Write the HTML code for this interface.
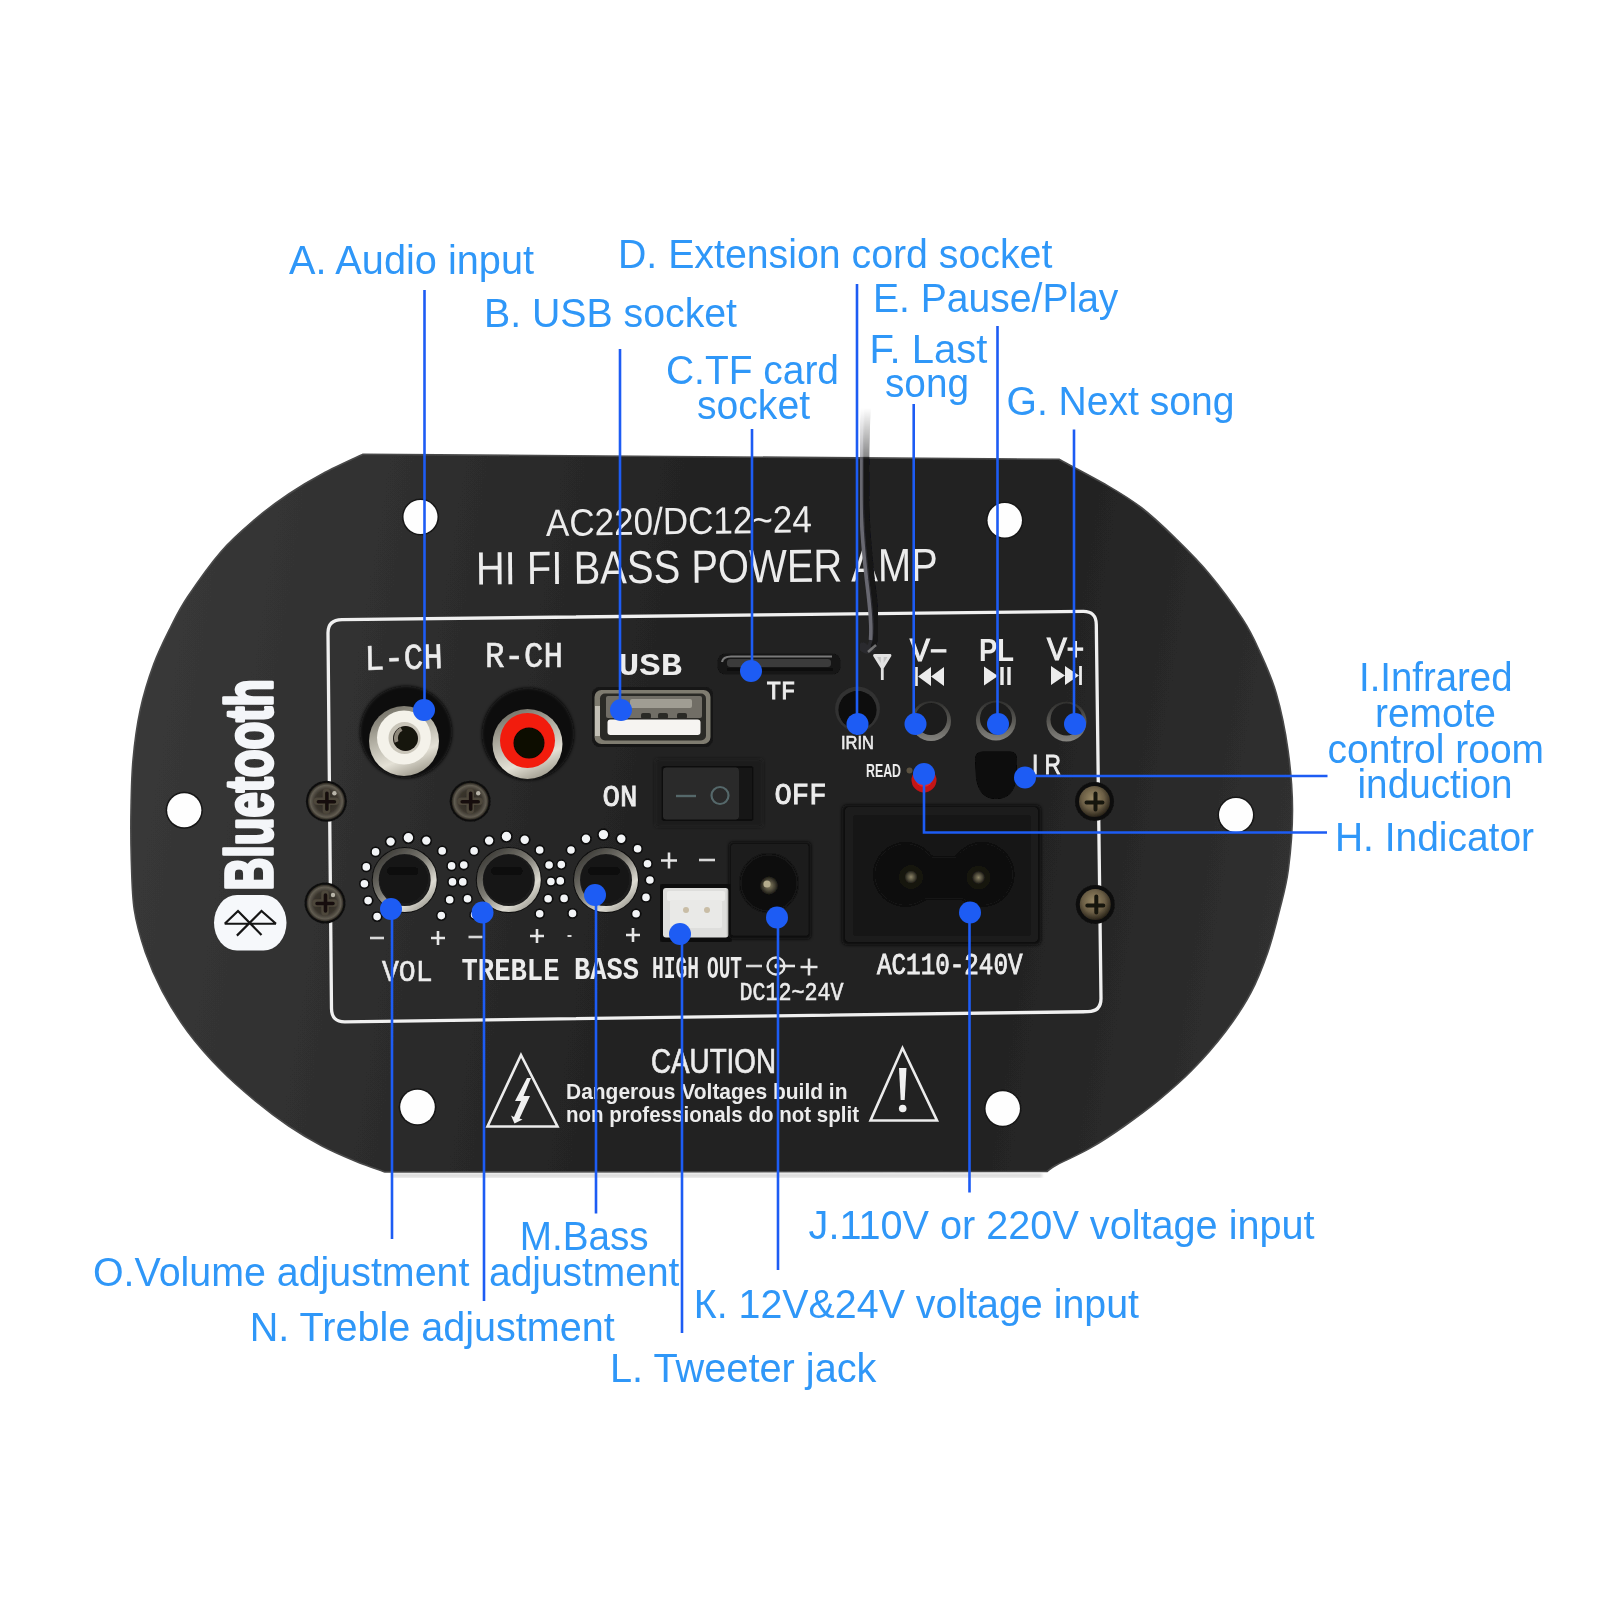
<!DOCTYPE html>
<html lang="en"><head><meta charset="utf-8"><title>HI FI Bass Power Amp - labelled diagram</title>
<style>html,body{margin:0;padding:0;background:#fff}body{width:1600px;height:1600px;overflow:hidden}svg{display:block}text{font-family:"Liberation Sans", Arial, Helvetica, sans-serif}text.m{font-family:"Liberation Mono","DejaVu Sans Mono",monospace}</style>
</head><body>
<svg width="1600" height="1600" viewBox="0 0 1600 1600">
<defs>
<filter id="b1" x="-5%" y="-5%" width="110%" height="110%"><feGaussianBlur stdDeviation="0.7"/></filter>
<filter id="b2" x="-10%" y="-10%" width="120%" height="120%"><feGaussianBlur stdDeviation="1.4"/></filter>
<filter id="b3" x="-20%" y="-20%" width="140%" height="140%"><feGaussianBlur stdDeviation="3"/></filter>
<linearGradient id="plateG" x1="0" y1="0.45" x2="1" y2="0.55"><stop offset="0" stop-color="#383838"/><stop offset="0.22" stop-color="#2e2e2e"/><stop offset="0.45" stop-color="#232323"/><stop offset="0.75" stop-color="#222222"/><stop offset="1" stop-color="#303030"/></linearGradient>
<linearGradient id="silver" x1="0" y1="0" x2="1" y2="1"><stop offset="0" stop-color="#e9e6da"/><stop offset="0.5" stop-color="#b9b5a6"/><stop offset="1" stop-color="#8d897a"/></linearGradient>
<linearGradient id="silverV" x1="0.2" y1="0" x2="0.6" y2="1"><stop offset="0" stop-color="#6d6a60"/><stop offset="0.35" stop-color="#aaa79b"/><stop offset="0.75" stop-color="#e4e1d6"/><stop offset="1" stop-color="#a5a194"/></linearGradient>
<linearGradient id="silver2" x1="0" y1="0" x2="0" y2="1"><stop offset="0" stop-color="#3a3a38"/><stop offset="0.55" stop-color="#8c8a82"/><stop offset="1" stop-color="#d6d4cc"/></linearGradient>
<radialGradient id="screwG" cx="0.5" cy="0.5" r="0.5"><stop offset="0" stop-color="#2a2620"/><stop offset="0.62" stop-color="#3a352d"/><stop offset="0.86" stop-color="#625d52"/><stop offset="1" stop-color="#26221c"/></radialGradient>
<radialGradient id="screwG2" cx="0.45" cy="0.4" r="0.6"><stop offset="0" stop-color="#9a8a66"/><stop offset="0.6" stop-color="#6b5e45"/><stop offset="1" stop-color="#2a241a"/></radialGradient>
<linearGradient id="knobRing" x1="0.1" y1="0.05" x2="0.85" y2="0.95"><stop offset="0" stop-color="#3b3a36"/><stop offset="0.45" stop-color="#7d7b73"/><stop offset="0.8" stop-color="#dedcd3"/><stop offset="1" stop-color="#a8a69d"/></linearGradient>
<radialGradient id="pinG" cx="0.5" cy="0.5" r="0.5"><stop offset="0" stop-color="#8b8466"/><stop offset="0.6" stop-color="#4a4637"/><stop offset="1" stop-color="#1a1914"/></radialGradient>
<linearGradient id="wireG" x1="0" y1="0" x2="1" y2="0"><stop offset="0" stop-color="#5a5a5a"/><stop offset="0.35" stop-color="#1a1a1a"/><stop offset="1" stop-color="#050505"/></linearGradient>
<linearGradient id="wireFade" x1="0" y1="0" x2="0" y2="1"><stop offset="0.037" stop-color="#fff" stop-opacity="0"/><stop offset="0.215" stop-color="#fff" stop-opacity="0.5"/><stop offset="0.23" stop-color="#fff" stop-opacity="1"/><stop offset="1" stop-color="#fff" stop-opacity="1"/></linearGradient>
<mask id="wireM"><rect x="830" y="398" width="80" height="270" fill="url(#wireFade)"/></mask>
</defs>
<rect width="1600" height="1600" fill="#ffffff"/>
<g id="plate">
<path d="M1059.0,459.3 C1067.1,463.7 1093.8,477.6 1107.5,485.6 C1121.2,493.6 1130.0,498.8 1141.2,507.5 C1152.5,516.2 1163.8,526.9 1175.0,537.9 C1186.2,548.9 1197.5,559.8 1208.7,573.3 C1220.0,586.8 1234.0,606.0 1242.5,618.9 C1251.0,631.8 1253.8,638.5 1259.4,650.9 C1265.0,663.3 1271.4,676.6 1276.2,693.1 C1281.0,709.6 1285.3,730.5 1288.0,750.0 C1290.7,769.5 1292.5,790.0 1292.5,810.0 C1292.5,830.0 1290.5,853.3 1288.3,870.0 C1286.1,886.7 1283.0,896.3 1279.6,910.0 C1276.2,923.7 1272.6,938.4 1267.8,952.2 C1263.0,966.0 1257.9,979.5 1250.9,992.7 C1243.9,1005.9 1235.4,1018.6 1225.6,1031.5 C1215.8,1044.4 1203.2,1058.8 1191.9,1070.3 C1180.7,1081.8 1169.3,1091.4 1158.1,1100.7 C1146.8,1110.0 1135.7,1118.1 1124.4,1126.0 C1113.2,1133.9 1101.8,1141.4 1090.6,1147.9 C1079.3,1154.4 1064.2,1160.9 1056.9,1164.8 C1049.6,1168.7 1048.7,1170.4 1047.0,1171.5 L385.0,1172.0 C380.2,1170.2 366.6,1165.7 356.2,1161.4 C345.8,1157.1 333.8,1152.1 322.5,1146.2 C311.2,1140.3 299.9,1133.6 288.7,1126.0 C277.4,1118.4 266.2,1110.0 255.0,1100.7 C243.8,1091.4 232.4,1081.8 221.2,1070.3 C209.9,1058.8 197.3,1044.7 187.5,1031.5 C177.7,1018.3 169.2,1004.2 162.2,991.0 C155.2,977.8 150.0,965.7 145.3,952.2 C140.7,938.7 136.6,925.4 134.3,910.0 C132.0,894.6 131.9,876.7 131.3,860.0 C130.8,843.3 130.7,826.7 131.0,810.0 C131.3,793.3 131.5,776.7 133.0,760.0 C134.5,743.3 136.8,725.9 140.2,710.0 C143.6,694.1 148.6,678.2 153.7,664.4 C158.8,650.6 165.0,638.5 170.6,627.3 C176.2,616.1 179.1,609.6 187.5,597.0 C195.9,584.4 209.9,564.4 221.2,551.4 C232.4,538.4 243.8,528.9 255.0,519.3 C266.2,509.7 277.4,501.6 288.7,494.0 C299.9,486.4 310.1,480.3 322.5,473.7 C334.9,467.1 356.2,457.5 363.0,454.3 Z" fill="url(#plateG)" stroke="#4a4a4a" stroke-width="1.6" filter="url(#b1)"/>
<rect x="392" y="1173.5" width="650" height="4" fill="#8a8a8a" opacity="0.35" filter="url(#b2)"/>
<circle cx="420.5" cy="517" r="18.5" fill="#161616" filter="url(#b1)"/>
<circle cx="420.5" cy="517" r="17" fill="#fefefe" filter="url(#b1)"/>
<circle cx="1004.75" cy="520.25" r="18.7" fill="#161616" filter="url(#b1)"/>
<circle cx="1004.75" cy="520.25" r="17.2" fill="#fefefe" filter="url(#b1)"/>
<circle cx="184.25" cy="810.25" r="18.6" fill="#161616" filter="url(#b1)"/>
<circle cx="184.25" cy="810.25" r="17.1" fill="#fefefe" filter="url(#b1)"/>
<circle cx="1236" cy="815" r="18.5" fill="#161616" filter="url(#b1)"/>
<circle cx="1236" cy="815" r="17" fill="#fefefe" filter="url(#b1)"/>
<circle cx="417.5" cy="1107" r="18.8" fill="#161616" filter="url(#b1)"/>
<circle cx="417.5" cy="1107" r="17.3" fill="#fefefe" filter="url(#b1)"/>
<circle cx="1002.75" cy="1108.5" r="18.7" fill="#161616" filter="url(#b1)"/>
<circle cx="1002.75" cy="1108.5" r="17.2" fill="#fefefe" filter="url(#b1)"/>
</g>
<g id="silk" filter="url(#b1)">
<text x="546" y="536" font-size="38" fill="#ececec" font-weight="normal" text-anchor="start" textLength="266" lengthAdjust="spacingAndGlyphs" transform="rotate(-0.8 546 536)">AC220/DC12~24</text>
<text x="476" y="584.5" font-size="46.5" fill="#ececec" font-weight="normal" text-anchor="start" textLength="462" lengthAdjust="spacingAndGlyphs" transform="rotate(-0.45 476 584.5)">HI FI BASS POWER AMP</text>
<path d="M342,619.6 L1083,611.4 Q1096.2,611.2 1096.3,624.5 L1101,998 Q1101.2,1011.4 1088,1011.7 L345,1021.8 Q331.6,1022 331.5,1008.5 L328,633 Q327.9,619.8 342,619.6 Z" fill="none" stroke="#f0f0f0" stroke-width="3.3"/>
<text x="365" y="670" font-size="36" fill="#ececec" font-weight="normal" text-anchor="start" textLength="78" lengthAdjust="spacingAndGlyphs" stroke="#ececec" stroke-width="0.6" class="m" transform="rotate(-1.5 367 670)">L-CH</text>
<text x="485" y="667" font-size="36" fill="#ececec" font-weight="normal" text-anchor="start" textLength="78" lengthAdjust="spacingAndGlyphs" stroke="#ececec" stroke-width="0.6" class="m">R-CH</text>
<text x="618" y="675" font-size="32" fill="#ececec" font-weight="bold" text-anchor="start" textLength="64" lengthAdjust="spacingAndGlyphs" class="m">USB</text>
<text x="766.5" y="699" font-size="26" fill="#ececec" font-weight="normal" text-anchor="start" textLength="29" lengthAdjust="spacingAndGlyphs" stroke="#ececec" stroke-width="0.9" class="m">TF</text>
<text x="910" y="661" font-size="31" fill="#ececec" font-weight="normal" text-anchor="start" textLength="37" lengthAdjust="spacingAndGlyphs" stroke="#ececec" stroke-width="1.2" >V−</text>
<text x="979" y="661" font-size="31" fill="#ececec" font-weight="bold" text-anchor="start" textLength="35" lengthAdjust="spacingAndGlyphs" >PL</text>
<text x="1047" y="660" font-size="31" fill="#ececec" font-weight="normal" text-anchor="start" textLength="37" lengthAdjust="spacingAndGlyphs" stroke="#ececec" stroke-width="1.2" >V+</text>
<text x="841" y="748.5" font-size="18.5" fill="#ececec" font-weight="normal" text-anchor="start" textLength="33" lengthAdjust="spacingAndGlyphs" stroke="#ececec" stroke-width="0.6" >IRIN</text>
<text x="866" y="777" font-size="18" fill="#ececec" font-weight="bold" text-anchor="start" textLength="35" lengthAdjust="spacingAndGlyphs" >READ</text>
<text x="1032" y="774" font-size="28" fill="#ececec" font-weight="normal" text-anchor="start" textLength="29" lengthAdjust="spacingAndGlyphs" stroke="#ececec" stroke-width="0.9" >I R</text>
<text x="602.5" y="806" font-size="30" fill="#ececec" font-weight="normal" text-anchor="start" textLength="35" lengthAdjust="spacingAndGlyphs" stroke="#ececec" stroke-width="0.9" class="m">ON</text>
<text x="774.5" y="803.5" font-size="29" fill="#ececec" font-weight="normal" text-anchor="start" textLength="52" lengthAdjust="spacingAndGlyphs" stroke="#ececec" stroke-width="0.9" class="m">OFF</text>
<text x="382" y="981" font-size="30" fill="#ececec" font-weight="normal" text-anchor="start" textLength="50.6" lengthAdjust="spacingAndGlyphs" stroke="#ececec" stroke-width="0.6" class="m">VOL</text>
<text x="461.5" y="980" font-size="31" fill="#ececec" font-weight="bold" text-anchor="start" textLength="98" lengthAdjust="spacingAndGlyphs" class="m">TREBLE</text>
<text x="574" y="979" font-size="32" fill="#ececec" font-weight="bold" text-anchor="start" textLength="65" lengthAdjust="spacingAndGlyphs" class="m">BASS</text>
<text x="652" y="977.5" font-size="32" fill="#ececec" font-weight="bold" text-anchor="start" textLength="47" lengthAdjust="spacingAndGlyphs" class="m">HIGH</text>
<text x="707" y="977.5" font-size="32" fill="#ececec" font-weight="bold" text-anchor="start" textLength="35" lengthAdjust="spacingAndGlyphs" class="m">OUT</text>
<text x="739.5" y="1000" font-size="26" fill="#ececec" font-weight="normal" text-anchor="start" textLength="104" lengthAdjust="spacingAndGlyphs" stroke="#ececec" stroke-width="0.6" class="m">DC12~24V</text>
<text x="877" y="974" font-size="29" fill="#ececec" font-weight="normal" text-anchor="start" textLength="145.5" lengthAdjust="spacingAndGlyphs" stroke="#ececec" stroke-width="0.9" class="m">AC110-240V</text>
<text x="651" y="1073" font-size="35" fill="#ececec" font-weight="normal" text-anchor="start" textLength="125" lengthAdjust="spacingAndGlyphs" stroke="#ececec" stroke-width="0.7">CAUTION</text>
<text x="566" y="1098.5" font-size="21.5" fill="#ececec" font-weight="bold" text-anchor="start" textLength="281.5" lengthAdjust="spacingAndGlyphs" >Dangerous Voltages build in</text>
<text x="566" y="1121.5" font-size="21.5" fill="#ececec" font-weight="bold" text-anchor="start" textLength="293" lengthAdjust="spacingAndGlyphs" >non professionals do not split</text>
<path d="M370,938 h14" stroke="#d8d8d8" stroke-width="2.6" fill="none"/>
<path d="M431,938 h14 M438,931 v14" stroke="#e6e6e6" stroke-width="2.6" fill="none"/>
<path d="M468.5,937 h14" stroke="#d8d8d8" stroke-width="2.6" fill="none"/>
<path d="M530,936 h14 M537,929 v14" stroke="#e6e6e6" stroke-width="2.6" fill="none"/>
<path d="M567.5,936 h4" stroke="#d8d8d8" stroke-width="2" fill="none"/>
<path d="M626,935 h14 M633,928 v14" stroke="#e6e6e6" stroke-width="2.6" fill="none"/>
<path d="M661,860.5 h16 M669,852.5 v16" stroke="#e6e6e6" stroke-width="2.6" fill="none"/>
<path d="M699,860 h16" stroke="#d8d8d8" stroke-width="2.6" fill="none"/>
<path d="M746,966 h16" stroke="#d8d8d8" stroke-width="2.6" fill="none"/>
<circle cx="776" cy="966" r="8.5" fill="none" stroke="#e6e6e6" stroke-width="2.4"/><circle cx="777" cy="966" r="2.6" fill="#e6e6e6"/>
<path d="M780,966 h15" stroke="#e6e6e6" stroke-width="2.6"/>
<path d="M800.5,967 h17.0 M809,958.5 v17.0" stroke="#e6e6e6" stroke-width="2.6" fill="none"/>
<path d="M931,667.0 L918,676.5 L931,686.0 Z M944,667.0 L931,676.5 L944,686.0 Z" fill="#ececec"/>
<path d="M916.5,667 v19" stroke="#ececec" stroke-width="2.6"/>
<path d="M984,666.5 L998,676 L984,685.5 Z" fill="#ececec"/>
<path d="M1002,667 v18 M1009,667 v18" stroke="#ececec" stroke-width="3.4"/>
<path d="M1051,666.0 L1065,675.5 L1051,685.0 Z M1065,666.0 L1079,675.5 L1065,685.0 Z" fill="#ececec"/>
<path d="M1080.5,666 v19" stroke="#ececec" stroke-width="2.8"/>
<path d="M874.5,655.5 L890,655.5 L882.3,668 Z M882.3,657 V680" fill="#c4c4c4" stroke="#e2e2e2" stroke-width="2.8" stroke-linejoin="round"/>
<path d="M521,1055 L557.5,1126.5 L487.5,1126.5 Z" fill="none" stroke="#ececec" stroke-width="2.6" stroke-linejoin="miter"/>
<path d="M527,1078 L515,1101 L521,1101 L514,1117 L511,1115.5 L514.5,1123.5 L522.5,1119.5 L519.5,1118.5 L530,1096 L523.5,1096 L531,1078 Z" fill="#f0f0f0"/>
<path d="M902.5,1048 L937,1120.5 L870.5,1120.5 Z" fill="none" stroke="#ececec" stroke-width="2.6"/>
<path d="M899,1068 h7.5 l-1.8,32 h-4 Z" fill="#f0f0f0"/><circle cx="902.7" cy="1108.5" r="3.8" fill="#f0f0f0"/>
</g>
<g id="bt" filter="url(#b1)">
<rect x="214" y="895" width="72.5" height="55.6" rx="23" ry="27.8" fill="#f6f8fb"/>
<path d="M224.7,923.75 L238,911 L261.5,935 M276,923.75 L261.5,911 L236.9,935.6 M224.7,923.75 L276,923.75" fill="none" stroke="#151515" stroke-width="2.2" stroke-linejoin="miter"/>
<text transform="translate(272.3,890.5) rotate(-90)" font-size="66" font-weight="bold" fill="#f4f6f9" textLength="211.5" lengthAdjust="spacingAndGlyphs" stroke="#f4f6f9" stroke-width="3.6" stroke-linejoin="round">Bluetooth</text>
</g>
<g id="parts" filter="url(#b1)">
<circle cx="406" cy="732" r="46" fill="#0a0a0a" filter="url(#b2)"/>
<circle cx="404" cy="741" r="35" fill="url(#silverV)"/>
<circle cx="404" cy="737.5" r="27" fill="#f4f2ea"/>
<circle cx="404.5" cy="738" r="16" fill="#c9c5b9"/>
<circle cx="405.5" cy="738.5" r="12.5" fill="#17120f"/>
<path d="M396.5,742 a10.5,10.5 0 0 1 5,-13" stroke="#8d877a" stroke-width="4" fill="none"/>
<circle cx="528" cy="734" r="46" fill="#0a0a0a" filter="url(#b2)"/>
<circle cx="527.5" cy="744" r="35" fill="url(#silverV)"/>
<circle cx="527.5" cy="740.5" r="27.5" fill="#f21a10"/>
<circle cx="529" cy="743" r="15.5" fill="#0d0706"/>
<rect x="592" y="687" width="121" height="60" rx="8" fill="#151515" filter="url(#b1)"/>
<rect x="594.5" y="690" width="116" height="54" rx="7" fill="#7f7b70"/>
<rect x="600" y="693.5" width="106" height="47" rx="5" fill="#2b2a27"/>
<rect x="595" y="706" width="5" height="30" fill="#c2bfb5"/>
<rect x="606" y="696" width="96" height="22" rx="2" fill="#716e66"/>
<rect x="630" y="699" width="62" height="9" rx="2" fill="#a09d93"/>
<rect x="641" y="713" width="10" height="6" rx="2" fill="#2a2926"/><rect x="658" y="713" width="10" height="6" rx="2" fill="#2a2926"/><rect x="677" y="713" width="10" height="6" rx="2" fill="#2a2926"/>
<rect x="607.5" y="719.5" width="93" height="15.5" rx="3" fill="#f6f4f1"/>
<rect x="717.5" y="653.5" width="123" height="21" rx="8" fill="#131313"/>
<path d="M722,662 Q723,656.5 731,656.5 L832,656.5" stroke="#7a7a7a" stroke-width="2.2" fill="none"/>
<rect x="727" y="659" width="104" height="8" rx="3" fill="#3a3a3a"/>
<path d="M727,669.5 L833,669.5" stroke="#0a0a0a" stroke-width="3" fill="none"/>
<circle cx="857.5" cy="709" r="22.5" fill="#303030"/><circle cx="857.5" cy="710" r="19" fill="#090909"/>
<circle cx="931" cy="721" r="20" fill="url(#silver2)" opacity="0.55"/>
<circle cx="931" cy="719" r="16" fill="#1a1a1a"/>
<circle cx="996" cy="720.5" r="20" fill="url(#silver2)" opacity="0.55"/>
<circle cx="996" cy="718.5" r="16" fill="#1a1a1a"/>
<circle cx="1066.5" cy="721.5" r="20" fill="url(#silver2)" opacity="0.55"/>
<circle cx="1066.5" cy="719.5" r="16" fill="#1a1a1a"/>
<circle cx="924" cy="780" r="12.5" fill="#c31218"/><circle cx="924" cy="778" r="9" fill="#e3262c"/>
<circle cx="909.5" cy="770.5" r="3" fill="#5a5140"/>
<path d="M983,751.5 L1010,751.5 Q1017,751.5 1017,759.5 L1016.5,778 Q1014,799 996,799 Q979,799 976,778 L975,759.5 Q975,751.5 983,751.5 Z" fill="#080808" filter="url(#b1)"/>
<rect x="655" y="759" width="108" height="68" rx="4" fill="#1c1c1c" filter="url(#b2)"/>
<rect x="661.5" y="766" width="92" height="55" rx="3" fill="#0e0e0e"/>
<rect x="663" y="767.5" width="76" height="52" rx="3" fill="#292929"/>
<rect x="739" y="767.5" width="13" height="52" fill="#141414"/>
<path d="M676,796 h20" stroke="#55686a" stroke-width="2.4"/><circle cx="720" cy="795.5" r="8.5" fill="none" stroke="#55686a" stroke-width="2.2"/>
<circle cx="377.1" cy="916.6" r="4.6" fill="#f2f4f6" stroke="#0d0d0d" stroke-width="1.6"/>
<circle cx="368.1" cy="900.6" r="4.6" fill="#f2f4f6" stroke="#0d0d0d" stroke-width="1.6"/>
<circle cx="364.4" cy="883.8" r="4.6" fill="#f2f4f6" stroke="#0d0d0d" stroke-width="1.6"/>
<circle cx="366.3" cy="866.9" r="4.6" fill="#f2f4f6" stroke="#0d0d0d" stroke-width="1.6"/>
<circle cx="375.6" cy="851.9" r="4.6" fill="#f2f4f6" stroke="#0d0d0d" stroke-width="1.6"/>
<circle cx="390.6" cy="841.6" r="5.0" fill="#f2f4f6" stroke="#0d0d0d" stroke-width="1.6"/>
<circle cx="408.4" cy="837.8" r="5.5" fill="#f2f4f6" stroke="#0d0d0d" stroke-width="1.6"/>
<circle cx="426.3" cy="840.6" r="5.0" fill="#f2f4f6" stroke="#0d0d0d" stroke-width="1.6"/>
<circle cx="442.2" cy="850.9" r="4.6" fill="#f2f4f6" stroke="#0d0d0d" stroke-width="1.6"/>
<circle cx="451.6" cy="865.9" r="4.6" fill="#f2f4f6" stroke="#0d0d0d" stroke-width="1.6"/>
<circle cx="452.5" cy="881.9" r="4.6" fill="#f2f4f6" stroke="#0d0d0d" stroke-width="1.6"/>
<circle cx="449.7" cy="899.7" r="4.6" fill="#f2f4f6" stroke="#0d0d0d" stroke-width="1.6"/>
<circle cx="441.3" cy="915.6" r="4.6" fill="#f2f4f6" stroke="#0d0d0d" stroke-width="1.6"/>
<circle cx="474.6" cy="914.7" r="4.6" fill="#f2f4f6" stroke="#0d0d0d" stroke-width="1.6"/>
<circle cx="467.5" cy="898.8" r="4.6" fill="#f2f4f6" stroke="#0d0d0d" stroke-width="1.6"/>
<circle cx="462.8" cy="881.9" r="4.6" fill="#f2f4f6" stroke="#0d0d0d" stroke-width="1.6"/>
<circle cx="463.8" cy="865.0" r="4.6" fill="#f2f4f6" stroke="#0d0d0d" stroke-width="1.6"/>
<circle cx="474.1" cy="850.9" r="4.6" fill="#f2f4f6" stroke="#0d0d0d" stroke-width="1.6"/>
<circle cx="489.1" cy="840.6" r="5.0" fill="#f2f4f6" stroke="#0d0d0d" stroke-width="1.6"/>
<circle cx="506.5" cy="836.5" r="5.5" fill="#f2f4f6" stroke="#0d0d0d" stroke-width="1.6"/>
<circle cx="524.7" cy="839.7" r="5.0" fill="#f2f4f6" stroke="#0d0d0d" stroke-width="1.6"/>
<circle cx="539.7" cy="850.0" r="4.6" fill="#f2f4f6" stroke="#0d0d0d" stroke-width="1.6"/>
<circle cx="549.1" cy="865.0" r="4.6" fill="#f2f4f6" stroke="#0d0d0d" stroke-width="1.6"/>
<circle cx="550.9" cy="881.5" r="4.6" fill="#f2f4f6" stroke="#0d0d0d" stroke-width="1.6"/>
<circle cx="548.1" cy="898.8" r="4.6" fill="#f2f4f6" stroke="#0d0d0d" stroke-width="1.6"/>
<circle cx="539.7" cy="913.8" r="4.6" fill="#f2f4f6" stroke="#0d0d0d" stroke-width="1.6"/>
<circle cx="572.5" cy="913.4" r="4.6" fill="#f2f4f6" stroke="#0d0d0d" stroke-width="1.6"/>
<circle cx="564.1" cy="898.4" r="4.6" fill="#f2f4f6" stroke="#0d0d0d" stroke-width="1.6"/>
<circle cx="560.3" cy="880.9" r="4.6" fill="#f2f4f6" stroke="#0d0d0d" stroke-width="1.6"/>
<circle cx="561.3" cy="864.6" r="4.6" fill="#f2f4f6" stroke="#0d0d0d" stroke-width="1.6"/>
<circle cx="571.0" cy="850.0" r="4.6" fill="#f2f4f6" stroke="#0d0d0d" stroke-width="1.6"/>
<circle cx="586.0" cy="838.8" r="5.0" fill="#f2f4f6" stroke="#0d0d0d" stroke-width="1.6"/>
<circle cx="603.4" cy="834.6" r="5.5" fill="#f2f4f6" stroke="#0d0d0d" stroke-width="1.6"/>
<circle cx="621.3" cy="838.8" r="5.0" fill="#f2f4f6" stroke="#0d0d0d" stroke-width="1.6"/>
<circle cx="637.6" cy="848.7" r="4.6" fill="#f2f4f6" stroke="#0d0d0d" stroke-width="1.6"/>
<circle cx="647.5" cy="863.7" r="4.6" fill="#f2f4f6" stroke="#0d0d0d" stroke-width="1.6"/>
<circle cx="649.9" cy="880.0" r="4.6" fill="#f2f4f6" stroke="#0d0d0d" stroke-width="1.6"/>
<circle cx="646.0" cy="897.4" r="4.6" fill="#f2f4f6" stroke="#0d0d0d" stroke-width="1.6"/>
<circle cx="636.1" cy="913.8" r="4.6" fill="#f2f4f6" stroke="#0d0d0d" stroke-width="1.6"/>
<circle cx="404.7" cy="880" r="33" fill="#0e0e0e" filter="url(#b1)"/>
<circle cx="404.7" cy="880" r="29" fill="#1b1b1b" stroke="url(#knobRing)" stroke-width="6"/>
<circle cx="403.7" cy="879" r="24" fill="#141414"/>
<path d="M390.7,871 h24" stroke="#060606" stroke-width="7" stroke-linecap="round" opacity="0.8"/>
<circle cx="508.8" cy="880" r="33" fill="#0e0e0e" filter="url(#b1)"/>
<circle cx="508.8" cy="880" r="29" fill="#1b1b1b" stroke="url(#knobRing)" stroke-width="6"/>
<circle cx="507.8" cy="879" r="24" fill="#141414"/>
<path d="M494.8,871 h24" stroke="#060606" stroke-width="7" stroke-linecap="round" opacity="0.8"/>
<circle cx="606" cy="880" r="33" fill="#0e0e0e" filter="url(#b1)"/>
<circle cx="606" cy="880" r="29" fill="#1b1b1b" stroke="url(#knobRing)" stroke-width="6"/>
<circle cx="605" cy="879" r="24" fill="#141414"/>
<path d="M592,871 h24" stroke="#060606" stroke-width="7" stroke-linecap="round" opacity="0.8"/>
<rect x="660" y="884" width="72" height="58" rx="2" fill="#0f0f0f"/>
<rect x="663" y="888" width="65.5" height="49.5" rx="3" fill="#dededc"/>
<rect x="667" y="891" width="58" height="10" rx="2" fill="#ececea"/>
<rect x="670" y="900" width="52" height="28" rx="2" fill="#e9e9e7"/>
<circle cx="686" cy="910" r="3" fill="#c9bda6"/><circle cx="707" cy="910" r="3" fill="#c9bda6"/>
<rect x="729" y="842" width="82" height="97" rx="4" fill="#0f0f0f" filter="url(#b2)"/>
<rect x="731" y="844" width="77.5" height="91.5" rx="3" fill="#1e1e1e"/>
<circle cx="769" cy="883" r="29" fill="#0a0a0a" filter="url(#b2)"/>
<circle cx="769" cy="885.5" r="9" fill="url(#pinG)"/><circle cx="767" cy="884" r="3.6" fill="#b3ab8c"/>
<rect x="842" y="805" width="199" height="140" rx="5" fill="#101010" filter="url(#b2)"/>
<rect x="845" y="807" width="193" height="135" rx="4" fill="#1d1d1d"/>
<rect x="853" y="815" width="178" height="121" rx="3" fill="#161616" filter="url(#b1)"/>
<g filter="url(#b2)"><circle cx="905.5" cy="874.5" r="31.5" fill="#070707"/><circle cx="982" cy="874.5" r="31.5" fill="#070707"/><rect x="905" y="857" width="77" height="42" fill="#070707"/></g>
<circle cx="911" cy="877" r="12" fill="#15150f"/><circle cx="978.5" cy="877.5" r="12" fill="#15150f"/>
<circle cx="911" cy="877" r="6.5" fill="url(#pinG)"/><circle cx="978.5" cy="877.5" r="6.5" fill="url(#pinG)"/>
<circle cx="326.4" cy="801.3" r="20.5" fill="#111" filter="url(#b1)"/>
<circle cx="326.4" cy="801.3" r="18.5" fill="url(#screwG)"/>
<path d="M317.4,801.3 h18 M326.4,792.3 v18" stroke="#4d463b" stroke-width="7.5" stroke-linecap="round"/>
<path d="M318.4,801.8 h16 M326.9,793.3 v16" stroke="#15110d" stroke-width="3.6" stroke-linecap="round"/>
<circle cx="334.4" cy="793.3" r="2.2" fill="#d8d4c8" opacity="0.8"/>
<circle cx="325" cy="903" r="20.5" fill="#111" filter="url(#b1)"/>
<circle cx="325" cy="903" r="18.5" fill="url(#screwG)"/>
<path d="M316,903 h18 M325,894 v18" stroke="#4d463b" stroke-width="7.5" stroke-linecap="round"/>
<path d="M317,903.5 h16 M325.5,895 v16" stroke="#15110d" stroke-width="3.6" stroke-linecap="round"/>
<circle cx="333" cy="895" r="2.2" fill="#d8d4c8" opacity="0.8"/>
<circle cx="470.2" cy="801.3" r="20.5" fill="#111" filter="url(#b1)"/>
<circle cx="470.2" cy="801.3" r="18.5" fill="url(#screwG)"/>
<path d="M461.2,801.3 h18 M470.2,792.3 v18" stroke="#4d463b" stroke-width="7.5" stroke-linecap="round"/>
<path d="M462.2,801.8 h16 M470.7,793.3 v16" stroke="#15110d" stroke-width="3.6" stroke-linecap="round"/>
<circle cx="478.2" cy="793.3" r="2.2" fill="#d8d4c8" opacity="0.8"/>
<circle cx="1094.5" cy="801.5" r="19.5" fill="#0d0d0d"/>
<circle cx="1094.5" cy="801.5" r="15.5" fill="url(#screwG2)"/>
<path d="M1086.5,802.5 h16 M1095.5,793.5 v16" stroke="#17130c" stroke-width="4" stroke-linecap="round"/>
<circle cx="1095.3" cy="904.5" r="19.5" fill="#0d0d0d"/>
<circle cx="1095.3" cy="904.5" r="15.5" fill="url(#screwG2)"/>
<path d="M1087.3,905.5 h16 M1096.3,896.5 v16" stroke="#17130c" stroke-width="4" stroke-linecap="round"/>
</g>
<g mask="url(#wireM)" filter="url(#b1)"><path d="M866.5,400 C865.5,420 864.5,440 864.5,456 C864.5,480 864,500 865,520 C866,545 868,560 870,580 C872,596 873.5,608 874,620 C874.5,630 875,640 872,646 C870,650 866,650 863,647" fill="none" stroke="#2a2a2e" stroke-width="9" stroke-linecap="round"/><path d="M868.5,400 C867.5,420 866.8,440 866.8,456 C866.8,480 866.3,500 867.3,520 C868.3,545 870.3,560 872.3,580 C874.3,596 875.8,608 876.3,620 C876.8,630 876.5,640 873.5,646" fill="none" stroke="#121214" stroke-width="5.2" stroke-linecap="round"/><path d="M862.8,400 C861.8,420 861,440 861,456 C861,480 860.5,500 861.5,520 C862.5,545 864.5,560 866.5,580 C868.5,596 870,608 870.5,620 C871,628 871,634 870.5,640" fill="none" stroke="#6c6c75" stroke-width="3.6" opacity="0.95"/><path d="M868,652 l8,-7" stroke="#8a8a8a" stroke-width="2.5" opacity="0.8"/></g>
<g id="callouts">
<path d="M424.5,290 V710" stroke="#1d5cf4" stroke-width="2.6" fill="none"/>
<circle cx="424" cy="710" r="11" fill="#1d5cf4"/>
<path d="M620,349 V710" stroke="#1d5cf4" stroke-width="2.6" fill="none"/>
<circle cx="621" cy="710" r="11" fill="#1d5cf4"/>
<path d="M752,429 V671" stroke="#1d5cf4" stroke-width="2.6" fill="none"/>
<circle cx="751" cy="671" r="11" fill="#1d5cf4"/>
<path d="M857,284 V724" stroke="#1d5cf4" stroke-width="2.6" fill="none"/>
<circle cx="857.5" cy="724" r="11" fill="#1d5cf4"/>
<path d="M997.5,326 V724" stroke="#1d5cf4" stroke-width="2.6" fill="none"/>
<circle cx="998" cy="724" r="11" fill="#1d5cf4"/>
<path d="M913.7,404 V724" stroke="#1d5cf4" stroke-width="2.6" fill="none"/>
<circle cx="915.5" cy="724" r="11" fill="#1d5cf4"/>
<path d="M1074,429.5 V724" stroke="#1d5cf4" stroke-width="2.6" fill="none"/>
<circle cx="1075" cy="724" r="11" fill="#1d5cf4"/>
<path d="M1025,776 H1327.5" stroke="#1d5cf4" stroke-width="2.6" fill="none"/>
<circle cx="1025" cy="777.5" r="11" fill="#1d5cf4"/>
<path d="M924,777 V832.5 H1327" stroke="#1d5cf4" stroke-width="2.6" fill="none"/>
<circle cx="924" cy="774" r="11" fill="#1d5cf4"/>
<path d="M969.5,912 V1192.5" stroke="#1d5cf4" stroke-width="2.6" fill="none"/>
<circle cx="970" cy="912.5" r="11" fill="#1d5cf4"/>
<path d="M778,917 V1270" stroke="#1d5cf4" stroke-width="2.6" fill="none"/>
<circle cx="777" cy="917.5" r="11" fill="#1d5cf4"/>
<path d="M682,934 V1333" stroke="#1d5cf4" stroke-width="2.6" fill="none"/>
<circle cx="680" cy="934" r="11" fill="#1d5cf4"/>
<path d="M596,895 V1213.5" stroke="#1d5cf4" stroke-width="2.6" fill="none"/>
<circle cx="595" cy="895" r="11" fill="#1d5cf4"/>
<path d="M484,912 V1301" stroke="#1d5cf4" stroke-width="2.6" fill="none"/>
<circle cx="482.5" cy="912.5" r="11" fill="#1d5cf4"/>
<path d="M392,909 V1239" stroke="#1d5cf4" stroke-width="2.6" fill="none"/>
<circle cx="391" cy="909" r="11" fill="#1d5cf4"/>
</g>
<g id="labels" fill="#2f97f8">
<text x="289" y="274.4" font-size="41" fill="#2f97f8" font-weight="normal" text-anchor="start" textLength="245" lengthAdjust="spacingAndGlyphs" >A. Audio input</text>
<text x="484" y="326.5" font-size="41" fill="#2f97f8" font-weight="normal" text-anchor="start" textLength="253" lengthAdjust="spacingAndGlyphs" >B. USB socket</text>
<text x="666" y="384" font-size="41" fill="#2f97f8" font-weight="normal" text-anchor="start" textLength="173" lengthAdjust="spacingAndGlyphs" >C.TF card</text>
<text x="697" y="419" font-size="41" fill="#2f97f8" font-weight="normal" text-anchor="start" textLength="113" lengthAdjust="spacingAndGlyphs" >socket</text>
<text x="618" y="267.5" font-size="41" fill="#2f97f8" font-weight="normal" text-anchor="start" textLength="434.3" lengthAdjust="spacingAndGlyphs" >D. Extension cord socket</text>
<text x="873" y="312" font-size="41" fill="#2f97f8" font-weight="normal" text-anchor="start" textLength="245.4" lengthAdjust="spacingAndGlyphs" >E. Pause/Play</text>
<text x="869.5" y="363" font-size="41" fill="#2f97f8" font-weight="normal" text-anchor="start" textLength="118" lengthAdjust="spacingAndGlyphs" >F. Last</text>
<text x="885" y="397" font-size="41" fill="#2f97f8" font-weight="normal" text-anchor="start" textLength="84" lengthAdjust="spacingAndGlyphs" >song</text>
<text x="1006.5" y="415.4" font-size="41" fill="#2f97f8" font-weight="normal" text-anchor="start" textLength="228" lengthAdjust="spacingAndGlyphs" >G. Next song</text>
<text x="1359" y="691" font-size="41" fill="#2f97f8" font-weight="normal" text-anchor="start" textLength="153.5" lengthAdjust="spacingAndGlyphs" >I.Infrared</text>
<text x="1375" y="727" font-size="41" fill="#2f97f8" font-weight="normal" text-anchor="start" textLength="121" lengthAdjust="spacingAndGlyphs" >remote</text>
<text x="1327.5" y="762.5" font-size="41" fill="#2f97f8" font-weight="normal" text-anchor="start" textLength="216.5" lengthAdjust="spacingAndGlyphs" >control room</text>
<text x="1357.5" y="798" font-size="41" fill="#2f97f8" font-weight="normal" text-anchor="start" textLength="155" lengthAdjust="spacingAndGlyphs" >induction</text>
<text x="1335" y="850.5" font-size="41" fill="#2f97f8" font-weight="normal" text-anchor="start" textLength="199" lengthAdjust="spacingAndGlyphs" >H. Indicator</text>
<text x="808.6" y="1239.4" font-size="41" fill="#2f97f8" font-weight="normal" text-anchor="start" textLength="506" lengthAdjust="spacingAndGlyphs" >J.110V or 220V voltage input</text>
<text x="693.75" y="1318" font-size="41" fill="#2f97f8" font-weight="normal" text-anchor="start" textLength="445.3" lengthAdjust="spacingAndGlyphs" >К. 12V&amp;24V voltage input</text>
<text x="610" y="1382" font-size="41" fill="#2f97f8" font-weight="normal" text-anchor="start" textLength="266.5" lengthAdjust="spacingAndGlyphs" >L. Tweeter jack</text>
<text x="519.7" y="1250" font-size="41" fill="#2f97f8" font-weight="normal" text-anchor="start" textLength="129" lengthAdjust="spacingAndGlyphs" >M.Bass</text>
<text x="489" y="1286" font-size="41" fill="#2f97f8" font-weight="normal" text-anchor="start" textLength="190.4" lengthAdjust="spacingAndGlyphs" >adjustment</text>
<text x="249.75" y="1340.6" font-size="41" fill="#2f97f8" font-weight="normal" text-anchor="start" textLength="365" lengthAdjust="spacingAndGlyphs" >N. Treble adjustment</text>
<text x="93" y="1286" font-size="41" fill="#2f97f8" font-weight="normal" text-anchor="start" textLength="376.4" lengthAdjust="spacingAndGlyphs" >O.Volume adjustment</text>
</g>
</svg></body></html>
